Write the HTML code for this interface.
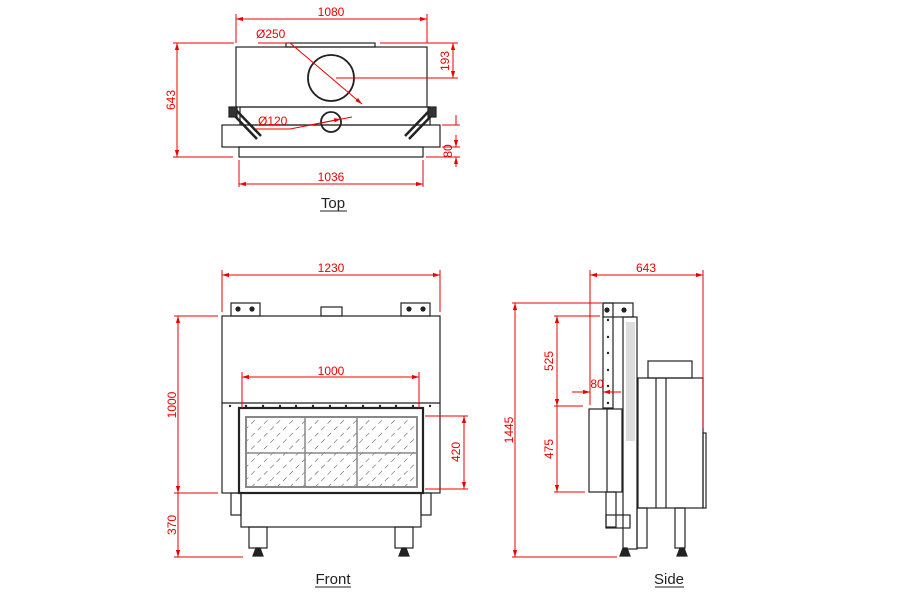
<!DOCTYPE html>
<html><head><style>body{margin:0;background:#fff}svg{display:block}</style></head><body>
<svg width="900" height="600" viewBox="0 0 900 600" xmlns="http://www.w3.org/2000/svg" font-family="Liberation Sans, sans-serif">
<defs>
<marker id="a" viewBox="0 0 10 10" refX="10" refY="5" markerWidth="7" markerHeight="7" orient="auto-start-reverse"><path d="M0,2L10,5L0,8z" fill="#e00"/></marker>
<pattern id="h" width="9" height="9" patternUnits="userSpaceOnUse" patternTransform="rotate(45)"><path d="M0,0V5" stroke="#333" stroke-width="0.9"/></pattern>
</defs>
<g fill="none" stroke="#222" stroke-width="1.2">
<!-- TOP -->
<rect x="236" y="47" width="191" height="60"/>
<rect x="286" y="43" width="89" height="4"/>
<circle cx="331" cy="78" r="23" stroke-width="1.8"/>
<rect x="240" y="107" width="190" height="18"/>
<rect x="222" y="125" width="218" height="22"/>
<rect x="239" y="147" width="184" height="10"/>
<circle cx="331" cy="122" r="10" stroke-width="1.8"/>
<path d="M231,112 L257,139 M236,110 L261,136" stroke-width="2.5"/>
<path d="M435,112 L409,139 M430,110 L405,136" stroke-width="2.5"/>
<rect x="229" y="107" width="8" height="10" fill="#333"/>
<rect x="428" y="107" width="8" height="10" fill="#333"/>
<!-- FRONT -->
<rect x="222" y="316" width="218" height="177"/>
<path d="M222,403H440"/>
<rect x="231" y="303" width="29" height="13"/>
<rect x="401" y="303" width="29" height="13"/>
<circle cx="238" cy="309" r="2" fill="#222"/><circle cx="252" cy="309" r="2" fill="#222"/>
<circle cx="409" cy="309" r="2" fill="#222"/><circle cx="423" cy="309" r="2" fill="#222"/>
<rect x="321" y="307" width="21" height="9"/>
<rect x="246" y="417" width="171" height="70" fill="url(#h)" stroke="none"/>
<rect x="239" y="408" width="184" height="85" stroke-width="2.2"/>
<rect x="246" y="417" width="171" height="70" stroke="#888" stroke-width="2"/>
<path d="M305,417V487M357,417V487M246,453H417" stroke="#888" stroke-width="1.5"/>
<rect x="241" y="493" width="180" height="34"/>
<rect x="231" y="493" width="10" height="22"/>
<rect x="421" y="493" width="10" height="22"/>
<rect x="249" y="527" width="18" height="21"/>
<rect x="395" y="527" width="18" height="21"/>
<path d="M253,556L256,548H260L263,556Z M399,556L402,548H406L409,556Z" fill="#222"/>
<!-- SIDE -->
<rect x="603" y="303" width="10" height="105"/>
<rect x="603" y="303" width="30" height="14"/>
<circle cx="607" cy="310" r="2" fill="#222"/><circle cx="624" cy="310" r="2" fill="#222"/>
<rect x="623" y="317" width="14" height="232"/>
<rect x="626" y="322" width="9" height="119" fill="#ddd" stroke="none"/>
<rect x="638" y="378" width="65" height="130"/>
<rect x="648" y="361" width="44" height="17"/>
<path d="M656,378V508M666,378V508"/>
<rect x="589" y="409" width="33" height="83"/>
<path d="M607,409V492"/>
<rect x="606" y="492" width="10" height="35"/>
<rect x="606" y="515" width="24" height="13"/>
<rect x="637" y="508" width="10" height="40"/>
<rect x="675" y="508" width="10" height="40"/>
<rect x="703" y="433" width="3" height="75"/>
<path d="M620,556L623,548H627L630,556Z M677,556L680,548H684L687,556Z" fill="#222"/>
</g>
<g fill="#222">
<circle cx="230" cy="406" r="1.2"/><circle cx="246" cy="406" r="1.2"/><circle cx="263" cy="406" r="1.2"/><circle cx="280" cy="406" r="1.2"/><circle cx="296" cy="406" r="1.2"/><circle cx="313" cy="406" r="1.2"/><circle cx="330" cy="406" r="1.2"/><circle cx="346" cy="406" r="1.2"/><circle cx="363" cy="406" r="1.2"/><circle cx="380" cy="406" r="1.2"/><circle cx="396" cy="406" r="1.2"/><circle cx="413" cy="406" r="1.2"/><circle cx="430" cy="406" r="1.2"/>
<circle cx="608" cy="320" r="1.2"/><circle cx="608" cy="337" r="1.2"/><circle cx="608" cy="353" r="1.2"/><circle cx="608" cy="370" r="1.2"/><circle cx="608" cy="386" r="1.2"/><circle cx="608" cy="403" r="1.2"/>
</g>
<g stroke="#e00" stroke-width="1" fill="none">
<path d="M236,19H427" marker-start="url(#a)" marker-end="url(#a)"/>
<path d="M236,14V43M427,14V43"/>
<path d="M177,43V157" marker-start="url(#a)" marker-end="url(#a)"/>
<path d="M173,43H234M173,157H233"/>
<path d="M453,43V78" marker-start="url(#a)" marker-end="url(#a)"/>
<path d="M380,43H458M336,78H458"/>
<path d="M456,115V125M456,157V167"/><path d="M456,135V147" marker-end="url(#a)"/><path d="M456,167V157" marker-end="url(#a)"/>
<path d="M442,125H460M442,147H460M426,157H460"/>
<path d="M239,184H423" marker-start="url(#a)" marker-end="url(#a)"/>
<path d="M239,160V187M423,160V187"/>
<path d="M258,43H290L362,104" marker-end="url(#a)"/>
<path d="M256,129H290L352,117"/><path d="M305,126L341,119" marker-end="url(#a)"/>
<path d="M222,275H440" marker-start="url(#a)" marker-end="url(#a)"/>
<path d="M222,270V312M440,270V312"/>
<path d="M178,316V493" marker-start="url(#a)" marker-end="url(#a)"/>
<path d="M178,493V557" marker-end="url(#a)"/>
<path d="M174,316H218M174,493H218M174,557H243"/>
<path d="M242,377H419" marker-start="url(#a)" marker-end="url(#a)"/>
<path d="M242,372V408M419,372V408"/>
<path d="M464,416V489" marker-start="url(#a)" marker-end="url(#a)"/>
<path d="M425,416H468M425,489H468"/>
<path d="M590,275H703" marker-start="url(#a)" marker-end="url(#a)"/>
<path d="M590,270V405M703,270V428"/>
<path d="M515,303V557" marker-start="url(#a)" marker-end="url(#a)"/>
<path d="M512,303H602M512,557H617"/>
<path d="M557,316V406" marker-start="url(#a)" marker-end="url(#a)"/>
<path d="M557,406V492" marker-end="url(#a)"/>
<path d="M554,316H600M554,406H583M554,492H585"/>
<path d="M572,392H590" marker-end="url(#a)"/><path d="M621,392H603" marker-end="url(#a)"/>
</g>
<g fill="#e00" font-size="12">
<text x="331" y="16" text-anchor="middle">1080</text>
<text x="256" y="38">Ø250</text>
<text x="258" y="125">Ø120</text>
<text x="331" y="181" text-anchor="middle">1036</text>
<text transform="translate(175,100) rotate(-90)" text-anchor="middle">643</text>
<text transform="translate(449,61) rotate(-90)" text-anchor="middle">193</text>
<text transform="translate(452,151) rotate(-90)" text-anchor="middle">80</text>
<text x="331" y="272" text-anchor="middle">1230</text>
<text x="331" y="375" text-anchor="middle">1000</text>
<text transform="translate(176,405) rotate(-90)" text-anchor="middle">1000</text>
<text transform="translate(176,525) rotate(-90)" text-anchor="middle">370</text>
<text transform="translate(460,452) rotate(-90)" text-anchor="middle">420</text>
<text x="646" y="272" text-anchor="middle">643</text>
<text transform="translate(513,430) rotate(-90)" text-anchor="middle">1445</text>
<text transform="translate(553,361) rotate(-90)" text-anchor="middle">525</text>
<text transform="translate(553,449) rotate(-90)" text-anchor="middle">475</text>
<text x="597" y="388" text-anchor="middle">80</text>
</g>
<g fill="#222" font-size="15" text-anchor="middle">
<text x="333" y="208">Top</text>
<text x="333" y="584">Front</text>
<text x="669" y="584">Side</text>
</g>
<path d="M320,211H347M315,587H351M655,587H684" stroke="#222" stroke-width="1"/>
</svg>
</body></html>
